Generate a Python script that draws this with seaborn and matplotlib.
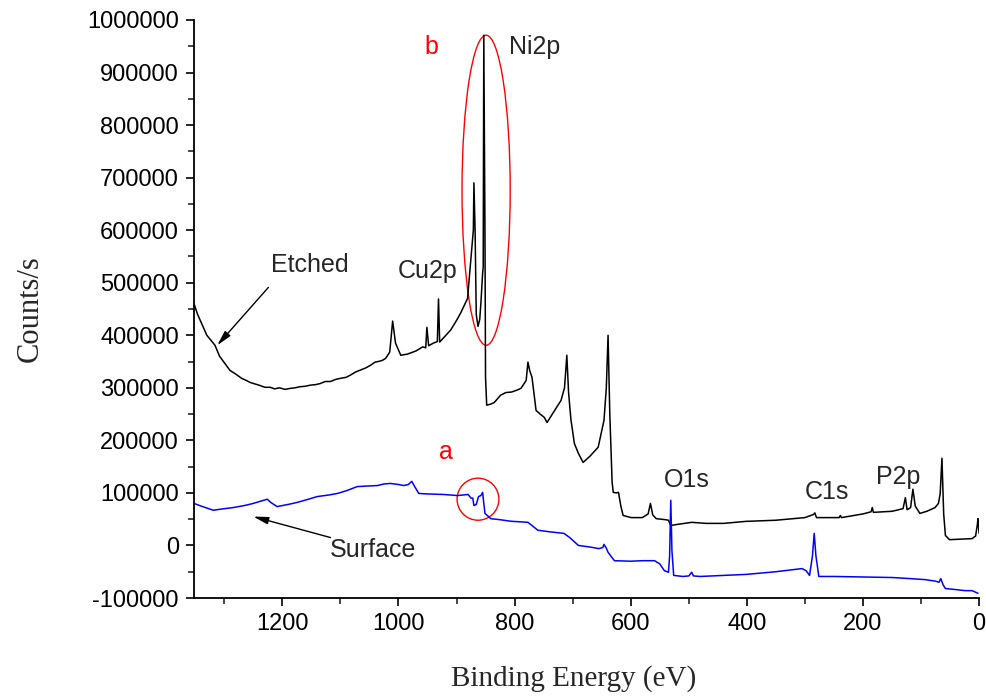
import numpy as np
import pandas as pd
import matplotlib
matplotlib.use("Agg")
import matplotlib.pyplot as plt
from matplotlib.patches import Ellipse
import seaborn as sns

# Etched spectrum (binding energy eV, counts/s)
etched_ev = [1352, 1346, 1340, 1330, 1324, 1316, 1308, 1300, 1290, 1280, 1270, 1262, 1255, 1240, 1230,
             1221, 1213, 1205, 1195, 1186, 1178, 1170, 1160, 1152, 1143, 1135, 1126, 1117, 1108, 1100,
             1090, 1083, 1074, 1065, 1056, 1048, 1040, 1035, 1028, 1022, 1015, 1010, 1005, 996, 985,
             970, 958, 953, 951, 948, 940, 933, 931, 929, 920, 910, 900, 893, 881, 875, 871, 870,
             868, 866, 863, 860, 858, 855, 854, 853, 851, 850, 848, 841, 835, 824, 815, 805, 795,
             789, 780, 777, 774, 770, 763, 756, 749, 744, 735, 720, 714, 710, 707, 703, 697, 690,
             682, 670, 656, 646, 642, 639, 636, 632, 630, 625, 621, 617, 613, 599, 580, 570, 566,
             562, 556, 540, 535, 531, 520, 495, 470, 440, 400, 397, 350, 300, 285, 283, 280, 241,
             239, 237, 200, 186, 184, 182, 150, 131, 127, 124, 118, 114, 110, 102, 90, 76, 70, 67,
             64, 61, 58, 51, 30, 12, 6, 3, 2, 0]
etched_cps = [460e3, 440e3, 425e3, 400e3, 392e3, 381e3, 360e3, 348e3, 333e3, 326e3, 318e3, 314e3,
              310e3, 305e3, 301e3, 301e3, 298e3, 300e3, 297e3, 299e3, 300e3, 302e3, 303e3, 305e3,
              306e3, 308e3, 312e3, 312e3, 316e3, 318e3, 320e3, 324e3, 330e3, 334e3, 338e3, 343e3,
              349e3, 350e3, 352e3, 356e3, 368e3, 427e3, 385e3, 362e3, 364e3, 370e3, 378e3, 376e3,
              415e3, 380e3, 385e3, 388e3, 469e3, 387e3, 398e3, 410e3, 428e3, 442e3, 470e3, 549e3,
              600e3, 690e3, 600e3, 440e3, 417e3, 430e3, 461e3, 518e3, 530e3, 971e3, 600e3, 320e3,
              267e3, 269e3, 272e3, 286e3, 291e3, 292e3, 296e3, 299e3, 314e3, 349e3, 333e3, 320e3,
              257e3, 250e3, 244e3, 234e3, 250e3, 276e3, 300e3, 362e3, 291e3, 240e3, 194e3, 175e3,
              158e3, 170e3, 187e3, 238e3, 300e3, 400e3, 250e3, 120e3, 101e3, 100e3, 101e3, 75e3,
              57e3, 53e3, 53e3, 60e3, 80e3, 58e3, 51e3, 49e3, 48e3, 38e3, 40e3, 44e3, 42e3, 42e3,
              46e3, 46e3, 48e3, 53e3, 59e3, 62e3, 53e3, 53e3, 57e3, 53e3, 60e3, 64e3, 72e3, 63e3,
              65e3, 70e3, 91e3, 68e3, 72e3, 107e3, 75e3, 61e3, 65e3, 72e3, 80e3, 99e3, 166e3, 60e3,
              19e3, 11e3, 12e3, 13e3, 18e3, 40e3, 51e3, 23e3]

# Surface spectrum
surface_ev = [1352, 1340, 1319, 1300, 1285, 1265, 1250, 1235, 1226, 1220, 1209, 1190, 1174, 1155,
              1140, 1120, 1105, 1090, 1071, 1055, 1036, 1025, 1014, 1000, 991, 983, 977, 972, 965,
              950, 922, 898, 880, 875, 872, 870, 866, 862, 858, 855, 853, 851, 841, 825, 806, 790,
              777, 770, 760, 740, 715, 705, 690, 670, 655, 648, 646, 642, 639, 633, 628, 600, 580,
              559, 550, 542, 535, 533, 531, 529, 526, 510, 500, 495, 492, 480, 440, 400, 350, 305,
              298, 292, 287, 284, 281, 276, 250, 200, 150, 120, 93, 75, 69, 66, 62, 58, 40, 24, 12, 2]
surface_cps = [80e3, 75e3, 67e3, 70e3, 72e3, 76e3, 80e3, 85e3, 88e3, 82e3, 74e3, 78e3, 82e3, 88e3,
               93e3, 96e3, 99e3, 104e3, 112e3, 113e3, 114e3, 117e3, 118e3, 116e3, 114e3, 116e3,
               122e3, 112e3, 99e3, 98e3, 97e3, 95e3, 97e3, 90e3, 90e3, 76e3, 78e3, 93e3, 95e3,
               101e3, 80e3, 61e3, 51e3, 49e3, 46e3, 45e3, 44e3, 38e3, 29e3, 26e3, 23e3, 15e3, 0,
               -3e3, -6e3, -4e3, 2e3, -5e3, -13e3, -22e3, -29e3, -30e3, -29e3, -29e3, -35e3, -48e3,
               -51e3, -20e3, 86e3, -10e3, -57e3, -59e3, -58e3, -51e3, -58e3, -59e3, -57e3, -55e3,
               -50e3, -44e3, -48e3, -57e3, -20e3, 23e3, -20e3, -59e3, -59e3, -60e3, -61e3, -63e3,
               -65e3, -68e3, -70e3, -63e3, -75e3, -82e3, -84e3, -86e3, -86e3, -91e3]

series_names = ["Etched", "Surface"]
series_colors = ["#000000", "#0000ff"]

x_ticks = [1200, 1000, 800, 600, 400, 200, 0]
y_ticks = [-100000, 0, 100000, 200000, 300000, 400000, 500000, 600000, 700000, 800000, 900000, 1000000]

df = pd.concat([
    pd.DataFrame({"ev": etched_ev, "cps": etched_cps, "series": series_names[0]}),
    pd.DataFrame({"ev": surface_ev, "cps": surface_cps, "series": series_names[1]}),
], ignore_index=True)

sns.set_style("ticks")
plt.rcParams["font.family"] = ["Liberation Sans", "DejaVu Sans"]

fig = plt.figure(figsize=(9.87, 6.96), dpi=100)
ax = fig.add_axes([0.1966, 0.1408, 0.7954, 0.8305])

sns.lineplot(data=df, x="ev", y="cps", hue="series", palette=dict(zip(series_names, series_colors)),
             estimator=None, sort=False, linewidth=1.1, legend=False, ax=ax)

ax.set_xlim(1352, 0)
ax.set_ylim(-100000, 1000000)
ax.set_xticks(x_ticks)
ax.set_xticklabels([str(t) for t in x_ticks])
ax.set_yticks(y_ticks)
ax.set_yticklabels([str(t) for t in y_ticks])
ax.set_xticks(np.arange(1300, -1, -100), minor=True)
ax.set_yticks(np.arange(-100000, 1000001, 50000), minor=True)
ax.tick_params(axis="both", which="major", direction="out", length=6, width=1.2, labelsize=17, colors="black")
ax.tick_params(axis="both", which="minor", direction="out", length=4, width=1.2)
ax.tick_params(axis="x", which="major", pad=5)
ax.tick_params(axis="y", which="major", pad=5)
for s in ["top", "right"]:
    ax.spines[s].set_visible(False)
for s in ["left", "bottom"]:
    ax.spines[s].set_linewidth(1.3)
    ax.spines[s].set_color("black")

ax.set_xlabel("Binding Energy (eV)", family=["Liberation Serif"], fontsize=21, va="center")
ax.set_ylabel("Counts/s", family=["Liberation Serif"], fontsize=22, labelpad=30)
ax.xaxis.set_label_coords(0.484, -0.139)

# Annotations
fs = 18
ax.text(943, 949000, "b", color="red", fontsize=fs, ha="center", va="center")
ax.text(766, 949000, "Ni2p", fontsize=fs, ha="center", va="center")
ax.text(950, 522000, "Cu2p", fontsize=fs, ha="center", va="center")
ax.text(1152, 533000, "Etched", fontsize=fs, ha="center", va="center")
ax.text(918, 177000, "a", color="red", fontsize=fs, ha="center", va="center")
ax.text(504, 124000, "O1s", fontsize=fs, ha="center", va="center")
ax.text(262, 101000, "C1s", fontsize=fs, ha="center", va="center")
ax.text(140, 131000, "P2p", fontsize=fs, ha="center", va="center")
ax.text(1043, -8000, "Surface", fontsize=fs, ha="center", va="center")

ax.add_patch(Ellipse((849, 676000), 83, 590000, fill=False, edgecolor="red", linewidth=1.0))
ax.add_patch(Ellipse((863, 88000), 72, 80000, fill=False, edgecolor="red", linewidth=1.0))

ax.annotate("", xy=(1312, 381000), xytext=(1224, 491000),
            arrowprops=dict(arrowstyle="-|>,head_length=0.9,head_width=0.22", color="black", lw=1.0,
                            shrinkA=0, shrinkB=0))
ax.annotate("", xy=(1250, 55000), xytext=(1117, 15000),
            arrowprops=dict(arrowstyle="-|>,head_length=0.9,head_width=0.22", color="black", lw=1.0,
                            shrinkA=0, shrinkB=0))

fig.savefig("out.png", dpi=100)
